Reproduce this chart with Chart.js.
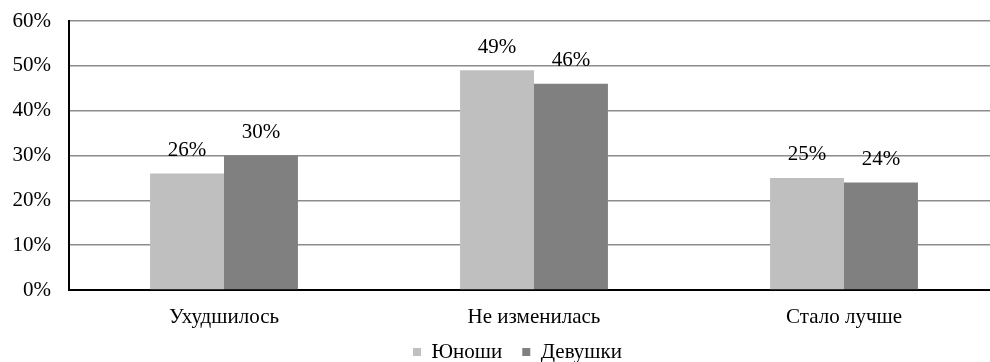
<!DOCTYPE html>
<html><head><meta charset="utf-8">
<script src="https://cdn.jsdelivr.net/npm/chart.js@4/dist/chart.umd.min.js"></script>
<style>html,body{margin:0;padding:0;background:#fff;overflow:hidden}#w{width:999px;height:362px}</style>
</head><body><div id="w"><canvas id="c"></canvas></div>
<script>
const categories = ["Ухудшилось", "Не изменилась", "Стало лучше"];
const seriesNames = ["Юноши", "Девушки"];
const boys = [26, 49, 25];
const girls = [30, 46, 24];
const yTicks = [0, 10, 20, 30, 40, 50, 60];

const FONT = "'Liberation Serif', 'Times New Roman', serif";
const X_HEIGHT = 45;

const labelPlugin = {
  id: 'vlabels',
  afterLayout(chart) {
    const lg = chart.legend;
    if (lg) {
      lg.left += 18; lg.right += 18;
      const itemCentre = lg.top + 20 + 10.5;
      const dy = 352 - itemCentre;
      lg.top += dy; lg.bottom += dy;
    }
  },
  afterDatasetsDraw(chart) {
    const ctx = chart.ctx;
    ctx.save();
    ctx.font = "21px " + FONT;
    ctx.fillStyle = "#000";
    ctx.textAlign = "center";
    ctx.textBaseline = "middle";
    chart.data.datasets.forEach((ds, i) => {
      chart.getDatasetMeta(i).data.forEach((bar, j) => {
        ctx.fillText(ds.data[j] + "%", bar.x, bar.y - 23);
      });
    });
    ctx.restore();
  }
};

new Chart(document.getElementById('c'), {
  type: 'bar',
  data: {
    labels: categories,
    datasets: [
      { label: seriesNames[0], data: boys, backgroundColor: '#BFBFBF' },
      { label: seriesNames[1], data: girls, backgroundColor: '#808080' }
    ]
  },
  options: {
    responsive: true,
    maintainAspectRatio: false,
    animation: false,
    layout: { padding: { top: 21, right: 0, left: 0, bottom: -24 } },
    datasets: { bar: { categoryPercentage: 0.477, barPercentage: 1.0 } },
    plugins: {
      tooltip: { enabled: false },
      legend: {
        position: 'bottom',
        labels: {
          font: { family: FONT, size: 21 },
          color: '#000',
          boxWidth: 8, boxHeight: 8,
          padding: 20
        }
      }
    },
    scales: {
      x: {
        grid: { display: false, drawTicks: false },
        border: { color: '#000', width: 2 },
        ticks: { font: { family: FONT, size: 21 }, color: '#000', padding: 15 },
        afterFit(s) {
          s.height = X_HEIGHT;
          s.paddingLeft = 0; s.paddingRight = 0;
        }
      },
      y: {
        min: 0, max: 60,
        afterBuildTicks(s) { s.ticks = yTicks.map(v => ({ value: v })); },
        grid: { color: '#8C8C8C', lineWidth: 1.5, drawTicks: false },
        border: { color: '#000', width: 2 },
        ticks: { font: { family: FONT, size: 21 }, color: '#000', padding: 18, callback: v => v + '%' },
        afterFit(s) { s.width = 69; s.paddingTop = 0; s.paddingBottom = 0; }
      }
    }
  },
  plugins: [labelPlugin]
});
</script>
</body></html>
